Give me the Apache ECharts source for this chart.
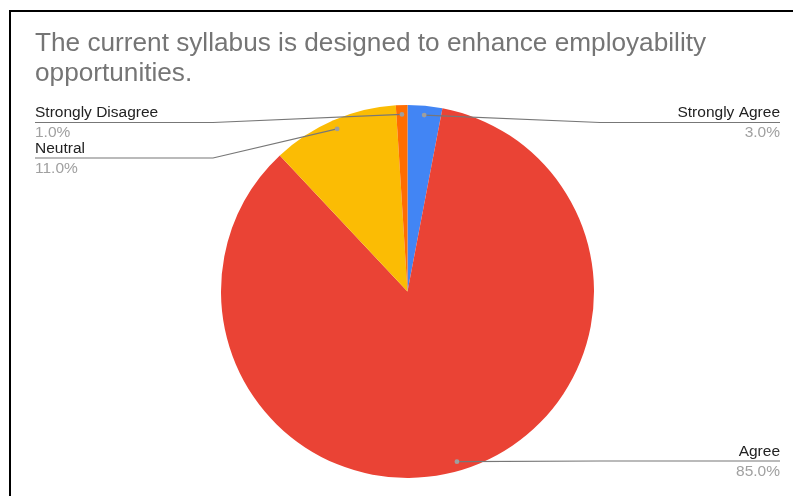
<!DOCTYPE html>
<html><head><meta charset="utf-8">
<script src="https://cdn.jsdelivr.net/npm/echarts@6/dist/echarts.min.js"></script>
<style>
html,body{margin:0;padding:0;background:#fff;}
#c{position:absolute;left:0;top:0;width:793px;height:496px;}
#frame{position:absolute;left:9px;top:10px;width:800px;height:500px;border-left:2px solid #000;border-top:2px solid #000;pointer-events:none;}
</style></head>
<body>
<div id="c"></div>
<div id="frame"></div>
<script>
const titleText = 'The current syllabus is designed to enhance employability\nopportunities.';
const categories = ['Strongly Agree', 'Agree', 'Neutral', 'Strongly Disagree'];
const values = [3, 85, 11, 1];
const colors = ['#4285F4', '#EA4335', '#FBBC04', '#FF6D01'];

// layout constants (not data)
const CX = 407.5, CY = 291.5, R = 186.5;
const labelSide = ['right', 'right', 'left', 'left'];
const labelLineY = [122.5, 461, 158, 122.5];
const LEFT_X = 35, RIGHT_X = 780, LEFT_BEND = 213, RIGHT_BEND = 600;
const FONT = 'Liberation Sans, Arial, sans-serif';

const total = values.reduce((a, b) => a + b, 0);
function anchor(i) {
  let cum = 0;
  for (let k = 0; k < i; k++) cum += values[k];
  const mid = (cum + values[i] / 2) / total * Math.PI * 2;
  const r = R * 0.95;
  return [CX + r * Math.sin(mid), CY - r * Math.cos(mid)];
}

const chart = echarts.init(document.getElementById('c'), null, {renderer: 'canvas'});
const guides = [];
categories.forEach((c, i) => {
  const a = anchor(i);
  const y = labelLineY[i];
  const left = labelSide[i] === 'left';
  const endX = left ? LEFT_X : RIGHT_X;
  const bendX = left ? LEFT_BEND : RIGHT_BEND;
  guides.push({type: 'polyline', shape: {points: [a, [bendX, y], [endX, y]]},
    style: {stroke: '#777777', lineWidth: 1.2, fill: null}, z: 100});
  guides.push({type: 'circle', shape: {cx: a[0], cy: a[1], r: 2.4}, style: {fill: '#9e9e9e'}, z: 101});
});

chart.setOption({
  animation: false,
  backgroundColor: '#fff',
  title: {
    text: titleText,
    left: 30, top: 24,
    textStyle: {fontFamily: FONT, fontSize: 26.2, fontWeight: 'normal', color: '#757575', lineHeight: 30}
  },
  graphic: guides,
  series: [{
    type: 'pie',
    center: [CX, CY],
    radius: R,
    startAngle: 90,
    clockwise: true,
    data: categories.map((c, i) => ({name: c, value: values[i], itemStyle: {color: colors[i]}})),
    label: {
      show: true,
      position: 'outside',
      formatter: p => '{n|' + p.name + '}\n{p|' + (p.value / total * 100).toFixed(1) + '%}',
      rich: {
        n: {fontFamily: FONT, fontSize: 15.5, color: '#222', lineHeight: 20},
        p: {fontFamily: FONT, fontSize: 15.5, color: '#a0a0a0', lineHeight: 20}
      }
    },
    labelLine: {show: false},
    labelLayout: function (params) {
      const i = params.dataIndex;
      const left = labelSide[i] === 'left';
      return {
        x: left ? LEFT_X : RIGHT_X,
        y: labelLineY[i] + 0.5,
        align: left ? 'left' : 'right',
        verticalAlign: 'middle'
      };
    }
  }]
});
</script>
</body></html>
